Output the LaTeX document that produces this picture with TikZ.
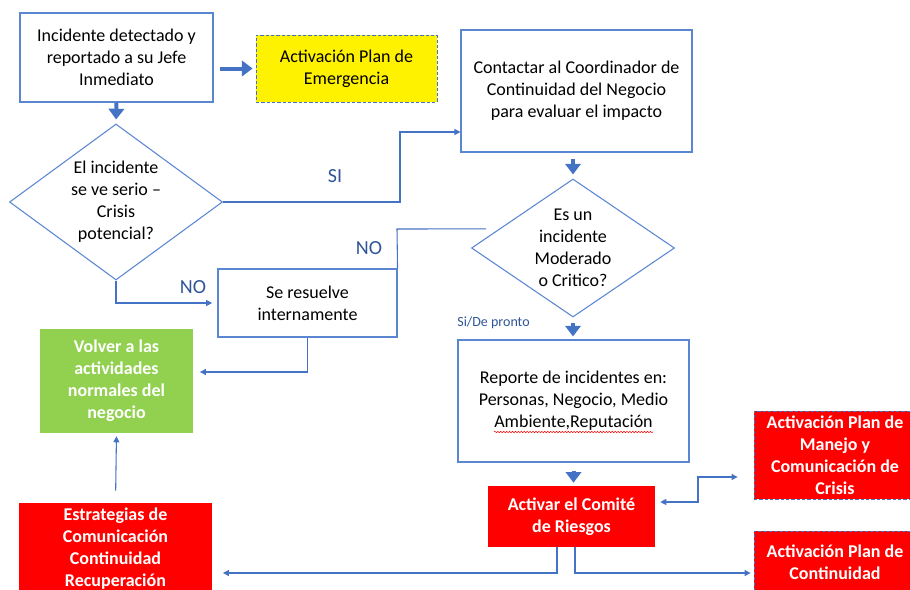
\documentclass[tikz,border=0pt]{standalone}
\usepackage{fontspec}
\setmainfont{Carlito}
\usepackage{xcolor}
\usepackage{tikz}
\usetikzlibrary{shapes,arrows.meta,positioning,calc,decorations.pathmorphing}

\definecolor{linkblue}{HTML}{4472C4}
\definecolor{edgeblue}{HTML}{5B87D2}
\definecolor{labelblue}{HTML}{2F5597}
\definecolor{okgreen}{HTML}{92D050}

\begin{document}
\begin{tikzpicture}[x=0.75pt, y=-0.75pt,
        every node/.style={font=\fontsize{13.5}{16.5}\selectfont, align=center, inner sep=0pt},
        box/.style={draw=edgeblue, line width=0.8pt, fill=white, rectangle},
        dec/.style={draw=edgeblue, line width=0.8pt, diamond},
        redbox/.style={fill=red, text=white, font=\fontsize{13.5}{16.5}\selectfont\bfseries},
        plan/.style={redbox, draw=linkblue, dashed, dash pattern=on 2.5pt off 1.5pt, line width=0.6pt},
        fat/.style={draw=linkblue, line width=3pt, -{Triangle[length=8pt,width=11.5pt]}},
        conn/.style={draw=linkblue, line width=0.8pt, >={Triangle[length=4.5pt,width=4.5pt]}},
        tag/.style={text=labelblue, font=\fontsize{15}{18}\selectfont}]
        \useasboundingbox (0,0) rectangle (910,589);
        \clip (0,0) rectangle (910,589);

        % left column
        \node[box, minimum width=144.75pt, minimum height=66.75pt] (inc) at (116.5,57.5) {Incidente detectado y\\reportado a su Jefe\\Inmediato};
        \node[draw=linkblue, dashed, dash pattern=on 2.5pt off 1.5pt, line width=0.6pt, fill=yellow, minimum width=135.75pt, minimum height=50.25pt] (emer) at (346.5,68.5) {Activación Plan de\\Emergencia};
        \node[dec, minimum width=159.75pt, minimum height=117pt] (serio) at (116,202) {};
        \node (serio-t) at (serio) {El incidente\\se ve serio --\\Crisis\\potencial?};
        \node[box, minimum width=134.25pt, minimum height=51pt] (resol) at (307.5,303) {Se resuelve\\internamente};
        \node[fill=okgreen, text=white, font=\fontsize{13.5}{16.5}\selectfont\bfseries, minimum width=114.75pt, minimum height=78pt] (normal) at (116.5,381) {Volver a las\\actividades\\normales del\\negocio};
        \node[redbox, minimum width=144.75pt, minimum height=69pt] (estr) at (115.5,549) {Estrategias de\\Comunicación\\Continuidad\\Recuperación};

        % right column
        \node[box, minimum width=173.25pt, minimum height=91.5pt] (contact) at (576.5,91) {Contactar al Coordinador de\\Continuidad del Negocio\\para evaluar el impacto};
        \node[dec, minimum width=152.25pt, minimum height=103.5pt] (crit) at (573,248) {};
        \node (crit-t) at (crit) {Es un\\incidente\\Moderado\\o Critico?};
        \node[box, minimum width=173.25pt, minimum height=91.5pt] (reporte) at (573.5,401) {Reporte de incidentes en:\\Personas, Negocio, Medio\\Ambiente,Reputación};
        \node[redbox, minimum width=125.25pt, minimum height=45.75pt] (comite) at (571.5,516.5) {Activar el Comité\\de Riesgos};
        \node[plan, minimum width=121.5pt, minimum height=66pt] (manejo) at (835,455) {Activación Plan de\\Manejo y\\Comunicación de\\Crisis};
        \node[plan, minimum width=121.5pt, minimum height=46.5pt] (cont) at (835,562) {Activación Plan de\\Continuidad};

        % spell check mark
        \draw[red, line width=0.4pt, decorate, decoration={snake, amplitude=0.5pt, segment length=2.2pt}]
            ($(reporte.center)+(-79.5,31)$) -- ($(reporte.center)+(79.5,31)$);

        % thick arrows
        \draw[fat, shorten <=4.5pt, shorten >=2.25pt] (inc.east |- emer.west) -- (emer.west);
        \draw[fat, shorten >=3pt] (inc.south) -- (serio.north);
        \draw[fat, shorten <=4.5pt, shorten >=3pt] (crit.north |- contact.south) -- (crit.north);
        \draw[fat, shorten <=3.75pt, shorten >=2.25pt] (crit.south) -- (crit.south |- reporte.north);
        \draw[fat, shorten <=6pt, shorten >=2.25pt] (reporte.south) -- (reporte.south |- comite.north);

        % SI
        \coordinate (siup) at (400,132);
        \draw[conn, ->] (serio.east) -| (siup) -- (siup -| contact.west);
        \node[tag] (si) at (335,176) {SI};

        % NO branches
        \coordinate (nocrit) at (397,229);
        \draw[conn, shorten <=9.75pt] ($(crit.west)!0.275!(crit.north)$) -- (nocrit) -- (resol.north east);
        \node[tag] (no-a) at (369,248) {NO};
        \draw[conn, ->, shorten >=4pt] (serio.south) |- (resol.west);
        \node[tag] (no-b) at (193,287) {NO};
        \node[tag, font=\fontsize{10.5}{12}\selectfont] (pronto) at (493.5,323) {Si/De pronto};

        % back to normal
        \draw[conn, ->, shorten >=5pt] (resol.south) |- ($(normal.east)+(0,-9)$);
        \draw[conn, ->, shorten <=9pt, shorten >=2.25pt] (estr.north) -- (normal.south);

        % from the committee
        \coordinate (cl) at (557,573);
        \coordinate (cr) at (575,573);
        \draw[conn, ->, shorten >=8pt] (cl |- comite.south) -- (cl) -- (cl -| estr.east);
        \draw[conn, ->, shorten >=2.25pt] (cr |- comite.south) -- (cr) -- (cr -| cont.west);
        \coordinate (mj) at (698,502);
        \coordinate (mj2) at (698,477);
        \draw[conn, <->, shorten <=3.75pt, shorten >=12pt] (mj -| comite.east) -- (mj) -- (mj2) -- (mj2 -| manejo.west);
\end{tikzpicture}
\end{document}
